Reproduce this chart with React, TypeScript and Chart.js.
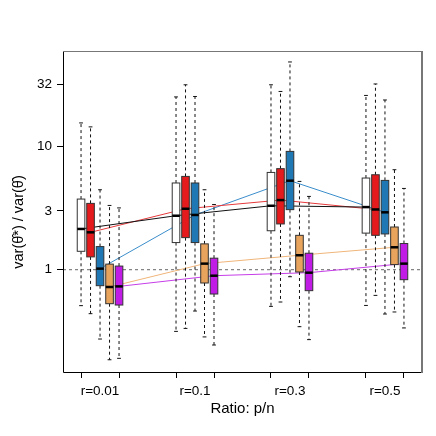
import { useEffect, useRef } from "react";
import { Chart, registerables } from "chart.js";

Chart.register(...registerables);

const categories = ["r=0.01", "r=0.1", "r=0.3", "r=0.5"];
const yTicks = [1, 3, 10, 32];
const xTitle = "Ratio: p/n";
const yTitle = "var(θ\u0302*) / var(θ\u0302)";

// Each entry: [lower whisker, Q1, median, Q3, upper whisker] per ratio group
const statsWhite = [
  [0.511, 1.41, 2.14, 3.74, 15.5],
  [0.316, 1.66, 2.74, 5.05, 25.2],
  [0.504, 2.07, 3.3, 6.15, 31.6],
  [0.513, 1.98, 3.22, 5.54, 25.9],
];
const statsRed = [
  [0.44, 1.27, 2.01, 3.45, 14.4],
  [0.334, 1.82, 3.12, 5.71, 31.6],
  [0.547, 2.35, 3.67, 6.6, 27.9],
  [0.619, 1.9, 3.08, 5.89, 32.1],
];
const statsBlue = [
  [0.274, 0.742, 1.02, 1.54, 4.45],
  [0.462, 1.66, 2.78, 5.05, 25.4],
  [0.877, 3.07, 5.27, 9.11, 48.4],
  [0.437, 1.95, 2.92, 5.3, 23.8],
];
const statsOrange = [
  [0.186, 0.53, 0.724, 1.11, 3.32],
  [0.285, 0.78, 1.12, 1.62, 4.45],
  [0.345, 0.958, 1.31, 1.9, 5.2],
  [0.454, 1.1, 1.52, 2.22, 6.47],
];
const statsPurple = [
  [0.191, 0.517, 0.732, 1.07, 3.17],
  [0.245, 0.635, 0.894, 1.24, 3.38],
  [0.271, 0.676, 0.946, 1.36, 3.93],
  [0.337, 0.83, 1.12, 1.63, 4.56],
];

const allStats = [statsWhite, statsRed, statsBlue, statsOrange, statsPurple];
const boxFill = ["#FFFFFF", "#E41A1C", "#1F78B4", "#E8A35C", "#C11BE6"];
const lineColors = ["#111111", "#E63A3C", "#3A8DCB", "#F0B57A", "#C63DE8"];

const GROUP_STEP = 10;
const boxPos = (g: number, k: number) => g * GROUP_STEP + k + 1;
const BOX_HALF = 0.4;
const CAP_HALF = 0.2;

const FONT = "'Liberation Sans', Arial, Helvetica, sans-serif";

const boxPlugin = {
  id: "boxes",
  beforeDatasetsDraw(chart: any) {
    const { ctx, chartArea, scales } = chart;
    const y1 = scales.y.getPixelForValue(1);
    ctx.save();
    ctx.strokeStyle = "#666";
    ctx.lineWidth = 1;
    ctx.setLineDash([3, 3]);
    ctx.beginPath();
    ctx.moveTo(chartArea.left, y1);
    ctx.lineTo(chartArea.right, y1);
    ctx.stroke();
    ctx.restore();
  },
  afterDatasetsDraw(chart: any) {
    const { ctx, scales } = chart;
    const xs = scales.x;
    const ys = scales.y;
    ctx.save();
    allStats.forEach((series, k) => {
      series.forEach((st, g) => {
        const xc = boxPos(g, k);
        const px = xs.getPixelForValue(xc);
        const pl = xs.getPixelForValue(xc - BOX_HALF);
        const pr = xs.getPixelForValue(xc + BOX_HALF);
        const cl = xs.getPixelForValue(xc - CAP_HALF);
        const cr = xs.getPixelForValue(xc + CAP_HALF);
        const [lo, q1, md, q3, hi] = st.map((v: number) => ys.getPixelForValue(v));
        ctx.strokeStyle = "#111";
        ctx.lineWidth = 1;
        ctx.setLineDash([3, 3]);
        ctx.beginPath();
        ctx.moveTo(px, q3);
        ctx.lineTo(px, hi);
        ctx.moveTo(px, q1);
        ctx.lineTo(px, lo);
        ctx.stroke();
        ctx.setLineDash([]);
        ctx.beginPath();
        ctx.moveTo(cl, hi);
        ctx.lineTo(cr, hi);
        ctx.moveTo(cl, lo);
        ctx.lineTo(cr, lo);
        ctx.stroke();
        ctx.fillStyle = boxFill[k];
        ctx.fillRect(pl, q3, pr - pl, q1 - q3);
        ctx.strokeStyle = "#333";
        ctx.lineWidth = 1;
        ctx.strokeRect(pl, q3, pr - pl, q1 - q3);
        ctx.strokeStyle = "#000";
        ctx.lineWidth = 2.5;
        ctx.beginPath();
        ctx.moveTo(pl, md);
        ctx.lineTo(pr, md);
        ctx.stroke();
      });
    });
    ctx.restore();
  },
  afterDraw(chart: any) {
    const { ctx, chartArea } = chart;
    const { left, right, top, bottom } = chartArea;
    ctx.save();
    ctx.lineWidth = 1;
    ctx.strokeStyle = "#000";
    ctx.beginPath();
    ctx.moveTo(left + 0.5, top);
    ctx.lineTo(left + 0.5, bottom + 0.5);
    ctx.lineTo(right, bottom + 0.5);
    ctx.stroke();
    ctx.strokeStyle = "#777";
    ctx.beginPath();
    ctx.moveTo(left, top + 0.5);
    ctx.lineTo(right, top + 0.5);
    ctx.stroke();
    ctx.lineWidth = 2;
    ctx.beginPath();
    ctx.moveTo(right, top);
    ctx.lineTo(right, bottom + 1);
    ctx.stroke();
    // y-axis title
    ctx.translate(19, 222);
    ctx.rotate(-Math.PI / 2);
    ctx.fillStyle = "#000";
    ctx.font = "14.5px " + FONT;
    ctx.textAlign = "center";
    ctx.textBaseline = "middle";
    ctx.fillText(yTitle, 0, 0);
    ctx.restore();
  },
};

export default function App() {
  const ref = useRef<HTMLCanvasElement | null>(null);

  useEffect(() => {
    if (!ref.current) return;
    const datasets = allStats.map((series, k) => ({
      label: "s" + k,
      data: series.map((st, g) => ({ x: boxPos(g, k), y: st[2] })),
      showLine: true,
      borderColor: lineColors[k],
      borderWidth: 1,
      pointRadius: 0,
      fill: false,
    }));

    const xTickVals: number[] = [];
    categories.forEach((_, g) => {
      xTickVals.push(boxPos(g, 0), boxPos(g, 2), boxPos(g, 4));
    });
    const isCenter = (v: number) => (v - 3) % GROUP_STEP === 0;

    const chart = new Chart(ref.current, {
      type: "scatter",
      data: { datasets },
      plugins: [boxPlugin],
      options: {
        animation: false,
        responsive: false,
        devicePixelRatio: 1,
        layout: { padding: { top: 51, right: 14, left: 0, bottom: 18 } },
        plugins: { legend: { display: false }, tooltip: { enabled: false } },
        scales: {
          x: {
            type: "linear",
            min: -0.9,
            max: 36.9,
            afterBuildTicks: (s: any) => {
              s.ticks = xTickVals.map((v) => ({ value: v }));
            },
            afterFit: (s: any) => {
              s.height = 46;
            },
            ticks: {
              autoSkip: false,
              maxRotation: 0,
              color: "#000",
              padding: 5,
              font: { family: FONT, size: 13.5 },
              callback: (v: any) => {
                const n = Number(v);
                return isCenter(n) ? categories[(n - 3) / GROUP_STEP] : "";
              },
            },
            grid: {
              drawOnChartArea: false,
              drawTicks: true,
              tickLength: 6,
              color: (c: any) => (c.tick && isCenter(c.tick.value) ? "rgba(0,0,0,0)" : "#000"),
            },
            border: { display: false },
            title: {
              display: true,
              text: xTitle,
              color: "#000",
              font: { family: FONT, size: 15 },
              padding: { top: 0, bottom: 0 },
            },
          },
          y: {
            type: "logarithmic",
            min: 0.148,
            max: 59.4,
            afterBuildTicks: (s: any) => {
              s.ticks = yTicks.map((v) => ({ value: v }));
            },
            afterFit: (s: any) => {
              s.width = 63;
            },
            ticks: {
              color: "#000",
              padding: 5,
              font: { family: FONT, size: 13.5 },
              callback: (v: any) => String(v),
            },
            grid: {
              drawOnChartArea: false,
              drawTicks: true,
              tickLength: 6,
              color: "#000",
            },
            border: { display: false },
            title: { display: false },
          },
        },
      },
    } as any);
    return () => chart.destroy();
  }, []);

  return (
    <div style={{ position: "fixed", left: 0, top: 0, width: 436, height: 436, background: "#fff" }}>
      <canvas ref={ref} width={436} height={436} />
    </div>
  );
}
